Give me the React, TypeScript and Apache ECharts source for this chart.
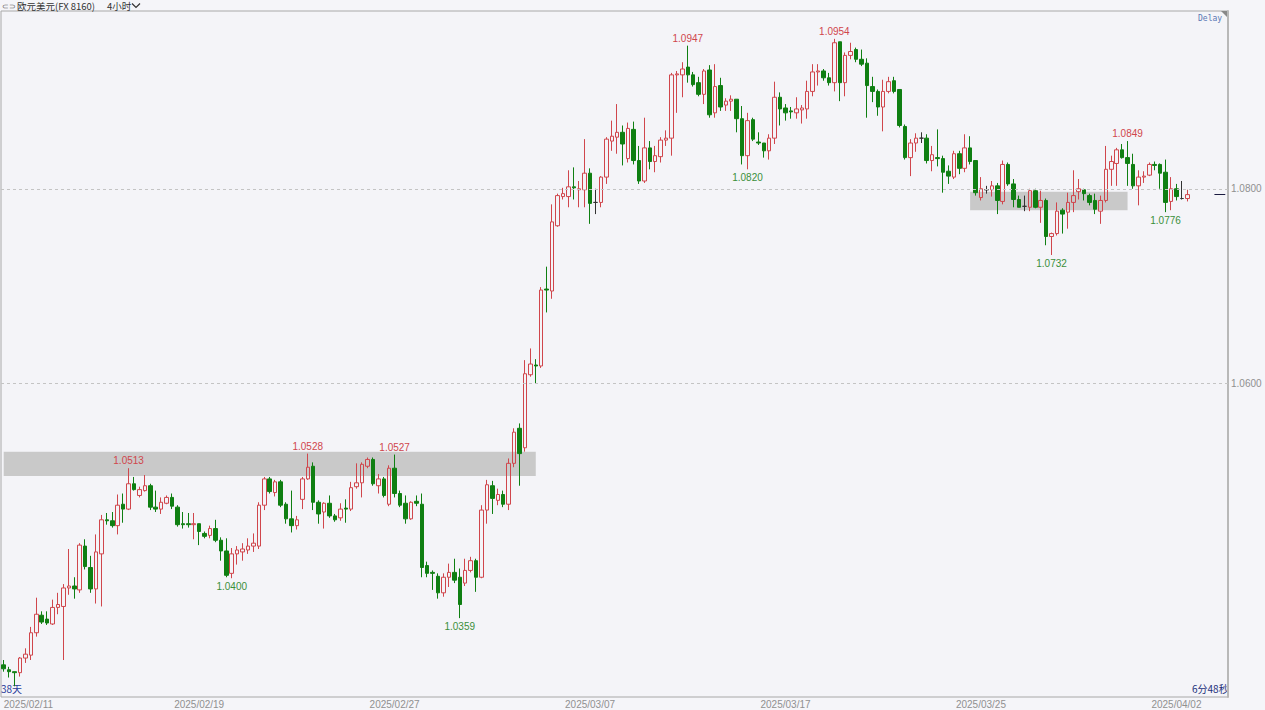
import React, { useEffect, useRef } from 'react';
import * as echarts from 'echarts';

const opens = [
  1.0311,1.0306,1.0304,1.0303,1.0318,1.0321,1.0344,1.0362,1.0358,1.0353,
  1.0370,1.0371,1.0390,1.0392,1.0388,1.0433,1.0411,1.0389,1.0425,1.0460,
  1.0459,1.0454,1.0476,1.0471,1.0497,1.0485,1.0490,1.0495,1.0473,1.0471,
  1.0477,1.0483,1.0473,1.0456,1.0456,1.0455,1.0456,1.0446,1.0444,1.0451,
  1.0439,1.0428,1.0405,1.0425,1.0427,1.0429,1.0433,1.0433,1.0475,1.0502,
  1.0488,1.0499,1.0476,1.0461,1.0454,1.0481,1.0502,1.0515,1.0478,1.0468,
  1.0477,1.0464,1.0462,1.0472,1.0471,1.0494,1.0498,1.0515,1.0522,1.0495,
  1.0502,1.0476,1.0513,1.0487,1.0477,1.0461,1.0479,1.0476,1.0413,1.0406,
  1.0402,1.0385,1.0401,1.0406,1.0401,1.0395,1.0408,1.0418,1.0401,1.0470,
  1.0495,1.0480,1.0486,1.0476,1.0518,1.0554,1.0534,1.0609,1.0619,1.0618,
  1.0697,1.0695,1.0762,1.0792,1.0792,1.0802,1.0799,1.0799,1.0816,1.0786,
  1.0786,1.0812,1.0849,1.0853,1.0858,1.0831,1.0861,1.0829,1.0808,1.0842,
  1.0828,1.0833,1.0850,1.0852,1.0917,1.0917,1.0925,1.0917,1.0909,1.0897,
  1.0922,1.0878,1.0906,1.0886,1.0890,1.0892,1.0872,1.0834,1.0871,1.0848,
  1.0847,1.0839,1.0852,1.0894,1.0883,1.0880,1.0878,1.0881,1.0882,1.0900,
  1.0920,1.0921,1.0914,1.0909,1.0951,1.0909,1.0937,1.0943,1.0933,1.0929,
  1.0905,1.0900,1.0884,1.0900,1.0911,1.0902,1.0864,1.0832,1.0847,1.0852,
  1.0852,1.0829,1.0832,1.0831,1.0818,1.0812,1.0836,1.0821,1.0842,1.0829,
  1.0791,1.0799,1.0799,1.0803,1.0787,1.0825,1.0805,1.0789,1.0782,1.0781,
  1.0798,1.0781,1.0788,1.0751,1.0754,1.0778,1.0776,1.0786,1.0797,1.0799,
  1.0793,1.0788,1.0777,1.0788,1.0820,1.0826,1.0840,1.0832,1.0825,1.0803,
  1.0812,1.0814,1.0825,1.0825,1.0817,1.0787,1.0800,1.0790,1.0790,
];

const closes = [
  1.0307,1.0304,1.0303,1.0318,1.0322,1.0344,1.0363,1.0355,1.0354,1.0370,
  1.0373,1.0390,1.0392,1.0389,1.0434,1.0412,1.0389,1.0427,1.0460,1.0459,
  1.0454,1.0475,1.0471,1.0497,1.0491,1.0491,1.0495,1.0473,1.0471,1.0478,
  1.0483,1.0474,1.0455,1.0455,1.0455,1.0456,1.0448,1.0443,1.0451,1.0439,
  1.0428,1.0403,1.0425,1.0429,1.0430,1.0433,1.0436,1.0475,1.0502,1.0489,
  1.0499,1.0475,1.0461,1.0454,1.0460,1.0502,1.0514,1.0478,1.0466,1.0477,
  1.0464,1.0460,1.0471,1.0471,1.0493,1.0498,1.0517,1.0522,1.0497,1.0502,
  1.0485,1.0513,1.0487,1.0475,1.0461,1.0478,1.0477,1.0411,1.0405,1.0405,
  1.0385,1.0401,1.0406,1.0398,1.0373,1.0408,1.0418,1.0401,1.0470,1.0496,
  1.0482,1.0486,1.0476,1.0518,1.0550,1.0528,1.0610,1.0620,1.0618,1.0696,
  1.0696,1.0766,1.0793,1.0795,1.0802,1.0801,1.0800,1.0816,1.0785,1.0786,
  1.0812,1.0851,1.0854,1.0858,1.0846,1.0862,1.0829,1.0808,1.0842,1.0828,
  1.0834,1.0850,1.0852,1.0917,1.0918,1.0923,1.0917,1.0907,1.0897,1.0921,
  1.0876,1.0905,1.0884,1.0890,1.0892,1.0872,1.0834,1.0870,1.0851,1.0847,
  1.0839,1.0852,1.0894,1.0882,1.0878,1.0879,1.0882,1.0883,1.0900,1.0920,
  1.0921,1.0914,1.0909,1.0950,1.0909,1.0937,1.0941,1.0933,1.0928,1.0906,
  1.0900,1.0884,1.0900,1.0910,1.0900,1.0865,1.0832,1.0847,1.0852,1.0852,
  1.0829,1.0835,1.0831,1.0817,1.0813,1.0836,1.0821,1.0842,1.0828,1.0796,
  1.0800,1.0799,1.0803,1.0788,1.0825,1.0805,1.0789,1.0781,1.0782,1.0798,
  1.0781,1.0788,1.0751,1.0754,1.0777,1.0774,1.0786,1.0793,1.0800,1.0795,
  1.0786,1.0779,1.0788,1.0820,1.0828,1.0840,1.0832,1.0826,1.0803,1.0812,
  1.0813,1.0825,1.0824,1.0816,1.0786,1.0800,1.0792,1.0790,1.0794,
];

const lows = [
  1.0304,1.0298,1.0289,1.0299,1.0313,1.0316,1.0340,1.0353,1.0352,1.0352,
  1.0363,1.0316,1.0383,1.0379,1.0385,1.0409,1.0385,1.0374,1.0371,1.0455,
  1.0452,1.0445,1.0457,1.0470,1.0490,1.0483,1.0489,1.0470,1.0468,1.0466,
  1.0476,1.0471,1.0453,1.0451,1.0452,1.0440,1.0434,1.0441,1.0441,1.0437,
  1.0418,1.0401,1.0400,1.0414,1.0418,1.0425,1.0427,1.0430,1.0470,1.0487,
  1.0484,1.0473,1.0456,1.0447,1.0450,1.0471,1.0501,1.0470,1.0456,1.0451,
  1.0462,1.0458,1.0459,1.0457,1.0469,1.0492,1.0483,1.0513,1.0495,1.0487,
  1.0483,1.0474,1.0483,1.0473,1.0456,1.0460,1.0474,1.0401,1.0401,1.0388,
  1.0379,1.0381,1.0391,1.0395,1.0359,1.0392,1.0406,1.0386,1.0400,1.0456,
  1.0466,1.0475,1.0473,1.0470,1.0514,1.0495,1.0530,1.0607,1.0600,1.0616,
  1.0673,1.0687,1.0761,1.0789,1.0781,1.0789,1.0781,1.0781,1.0764,1.0774,
  1.0781,1.0805,1.0839,1.0836,1.0824,1.0827,1.0825,1.0805,1.0806,1.0820,
  1.0817,1.0827,1.0844,1.0834,1.0878,1.0894,1.0909,1.0905,1.0895,1.0887,
  1.0873,1.0873,1.0880,1.0880,1.0880,1.0858,1.0825,1.0820,1.0849,1.0845,
  1.0832,1.0830,1.0846,1.0865,1.0870,1.0872,1.0872,1.0867,1.0872,1.0895,
  1.0906,1.0911,1.0906,1.0900,1.0890,1.0895,1.0933,1.0930,1.0926,1.0873,
  1.0889,1.0875,1.0859,1.0898,1.0898,1.0863,1.0830,1.0813,1.0838,1.0847,
  1.0826,1.0818,1.0823,1.0796,1.0805,1.0810,1.0815,1.0817,1.0825,1.0793,
  1.0788,1.0795,1.0792,1.0774,1.0784,1.0803,1.0781,1.0781,1.0777,1.0777,
  1.0780,1.0765,1.0742,1.0732,1.0752,1.0754,1.0759,1.0776,1.0789,1.0788,
  1.0783,1.0774,1.0764,1.0786,1.0803,1.0803,1.0831,1.0803,1.0800,1.0783,
  1.0806,1.0813,1.0819,1.0800,1.0776,1.0778,1.0788,1.0789,1.0787,
];

const highs = [
  1.0316,1.0309,1.0304,1.0319,1.0328,1.0350,1.0380,1.0366,1.0366,1.0378,
  1.0385,1.0394,1.0430,1.0401,1.0436,1.0440,1.0423,1.0445,1.0465,1.0467,
  1.0468,1.0486,1.0487,1.0513,1.0504,1.0494,1.0506,1.0497,1.0490,1.0483,
  1.0485,1.0487,1.0475,1.0468,1.0467,1.0467,1.0456,1.0448,1.0454,1.0460,
  1.0442,1.0441,1.0431,1.0433,1.0436,1.0441,1.0446,1.0478,1.0504,1.0504,
  1.0501,1.0501,1.0478,1.0490,1.0464,1.0504,1.0528,1.0519,1.0480,1.0478,
  1.0485,1.0466,1.0477,1.0481,1.0499,1.0518,1.0519,1.0524,1.0524,1.0507,
  1.0504,1.0516,1.0527,1.0490,1.0485,1.0479,1.0485,1.0487,1.0417,1.0408,
  1.0405,1.0405,1.0415,1.0420,1.0410,1.0420,1.0422,1.0420,1.0475,1.0501,
  1.0500,1.0492,1.0490,1.0523,1.0554,1.0559,1.0624,1.0636,1.0625,1.0699,
  1.0720,1.0784,1.0795,1.0801,1.0819,1.0822,1.0808,1.0851,1.0821,1.0800,
  1.0813,1.0853,1.0870,1.0887,1.0865,1.0868,1.0869,1.0844,1.0873,1.0849,
  1.0844,1.0853,1.0860,1.0919,1.0921,1.0930,1.0947,1.0920,1.0915,1.0923,
  1.0927,1.0928,1.0914,1.0893,1.0896,1.0892,1.0885,1.0878,1.0873,1.0858,
  1.0847,1.0856,1.0910,1.0899,1.0887,1.0884,1.0894,1.0886,1.0911,1.0928,
  1.0928,1.0923,1.0919,1.0954,1.0951,1.0940,1.0950,1.0945,1.0943,1.0934,
  1.0915,1.0902,1.0912,1.0915,1.0915,1.0902,1.0866,1.0851,1.0857,1.0858,
  1.0856,1.0844,1.0861,1.0834,1.0824,1.0839,1.0839,1.0856,1.0854,1.0829,
  1.0812,1.0803,1.0808,1.0806,1.0829,1.0827,1.0810,1.0793,1.0793,1.0800,
  1.0800,1.0798,1.0790,1.0755,1.0786,1.0780,1.0796,1.0819,1.0810,1.0800,
  1.0795,1.0795,1.0793,1.0844,1.0834,1.0842,1.0846,1.0849,1.0836,1.0819,
  1.0818,1.0827,1.0828,1.0826,1.0830,1.0812,1.0805,1.0808,1.0799,
];

const tickLabels = ['2025/02/11', '2025/02/19', '2025/02/27', '2025/03/07', '2025/03/17', '2025/03/25', '2025/04/02'];
const highMarks = [23, 56, 72, 126, 153, 207];
const lowMarks = [42, 84, 137, 193, 214];
const gridLevels = [1.06, 1.08];
const yLabelValues = [1.06, 1.08];
const bandFrom = [0, 178];
const bandTo = [98, 207];
const bandLow = [1.0505, 1.0778];
const bandHigh = [1.053, 1.0797];
const EMPTY_SLOTS = 7;
const CANDLES_PER_DAY = 6;
const Y_MIN = 1.0278;
const Y_MAX = 1.09826;

const RED = '#d0464c';
const GREEN = '#0f7f12';

function buildCategories(total: number): string[] {
  const out: string[] = [];
  const d = new Date(2025, 1, 11);
  while (out.length < total) {
    const wd = d.getDay();
    if (wd !== 0 && wd !== 6) {
      const ds = `${d.getFullYear()}/${String(d.getMonth() + 1).padStart(2, '0')}/${String(d.getDate()).padStart(2, '0')}`;
      for (let h = 0; h < CANDLES_PER_DAY && out.length < total; h++) {
        out.push(`${ds} ${String(h * 4).padStart(2, '0')}:00`);
      }
    }
    d.setDate(d.getDate() + 1);
  }
  return out;
}

export default function App() {
  const ref = useRef<HTMLDivElement>(null);

  useEffect(() => {
    if (!ref.current) return;
    const chart = echarts.init(ref.current, undefined, { renderer: 'svg' });
    const categories = buildCategories(opens.length + EMPTY_SLOTS);
    const data = opens.map((o, i) => [o, closes[i], lows[i], highs[i]]);
    const showTick = (_i: number, v: string) =>
      v.endsWith('00:00') && tickLabels.includes(v.slice(0, 10));
    const last = closes.length - 1;
    const textFont = "'Liberation Sans', Arial, sans-serif";

    const markPoints: any[] = [];
    highMarks.forEach((i) =>
      markPoints.push({
        coord: [i, highs[i]],
        value: highs[i],
        label: { position: 'top', distance: 2, color: RED },
      })
    );
    lowMarks.forEach((i) =>
      markPoints.push({
        coord: [i, lows[i]],
        value: lows[i],
        label: { position: 'bottom', distance: 3, color: '#3a8f3a' },
      })
    );

    const option: any = {
      animation: false,
      backgroundColor: '#f5f5f9',
      grid: {
        left: 1,
        right: 37,
        top: 11,
        bottom: 13,
        show: true,
        backgroundColor: '#f4f4f8',
        borderColor: '#a8a8a8',
        borderWidth: 1,
      },
      xAxis: {
        type: 'category',
        data: categories,
        boundaryGap: true,
        axisLine: { show: false },
        axisTick: { show: false },
        axisLabel: {
          interval: showTick,
          formatter: (v: string) => v.slice(0, 10),
          color: '#909090',
          fontSize: 10,
          fontFamily: textFont,
          margin: 2,
          alignMinLabel: 'left',
        },
        splitLine: { show: false },
      },
      yAxis: {
        type: 'value',
        position: 'right',
        min: Y_MIN,
        max: Y_MAX,
        scale: true,
        axisLine: { show: true, lineStyle: { color: '#b8b8b8', width: 2 } },
        axisTick: { show: false },
        splitLine: { show: false },
        axisLabel: {
          customValues: yLabelValues,
          formatter: (v: number) => v.toFixed(4),
          color: '#909090',
          fontSize: 10,
          fontFamily: textFont,
          margin: 3,
        },
      },
      series: [
        {
          type: 'candlestick',
          data,
          barWidth: 4,
          itemStyle: {
            color: 'rgba(0,0,0,0)',
            color0: GREEN,
            borderColor: RED,
            borderColor0: GREEN,
            borderColorDoji: '#333333',
            borderWidth: 1,
          },
          markArea: {
            silent: true,
            itemStyle: { color: '#c9c9c9' },
            data: bandFrom.map((f, k) => [
              { xAxis: f, yAxis: bandLow[k] },
              { xAxis: bandTo[k], yAxis: bandHigh[k] },
            ]),
          },
          markLine: {
            silent: true,
            symbol: 'none',
            label: { show: false },
            lineStyle: { type: [3, 3], color: '#c4c4c4', width: 1 },
            data: [
              ...gridLevels.map((v) => ({ yAxis: v })),
              [
                { coord: [last + 5, closes[last]], lineStyle: { type: 'solid', color: '#1a1a40', width: 1 } },
                { coord: [last + 7, closes[last]] },
              ],
            ],
          },
          markPoint: {
            silent: true,
            symbol: 'circle',
            symbolSize: 1,
            itemStyle: { color: 'rgba(0,0,0,0)' },
            label: {
              show: true,
              fontSize: 10,
              fontFamily: textFont,
              formatter: (p: any) => Number(p.value).toFixed(4),
            },
            data: markPoints,
          },
        },
      ],
      graphic: [
        {
          type: 'text',
          x: 2,
          y: 6,
          style: { text: '⊂⊃', fill: '#555', font: '8px sans-serif', verticalAlign: 'middle' },
        },
        {
          type: 'text',
          x: 17,
          y: 6,
          style: {
            text: '欧元美元(FX 8160)',
            fill: '#333',
            font: "9.5px 'Noto Sans CJK SC', sans-serif",
            verticalAlign: 'middle',
          },
        },
        {
          type: 'text',
          x: 107,
          y: 6,
          style: {
            text: '4小时',
            fill: '#333',
            font: "9.5px 'Noto Sans CJK SC', sans-serif",
            verticalAlign: 'middle',
          },
        },
        {
          type: 'polyline',
          shape: { points: [[132, 3.5], [136, 7.5], [140, 3.5]] },
          style: { stroke: '#333', lineWidth: 1.2, fill: null },
        },
        {
          type: 'text',
          left: 1198,
          top: 14,
          style: { text: 'Delay', fill: '#5a78b4', font: "8px 'DejaVu Sans Mono', monospace" },
        },
        {
          type: 'polygon',
          shape: { points: [[1221, 11], [1228, 11], [1228, 18]] },
          style: { fill: '#888' },
        },
        {
          type: 'text',
          left: 1,
          top: 683,
          style: { text: '38天', fill: '#2b3c9a', font: "10px 'Noto Sans CJK SC', sans-serif" },
        },
        {
          type: 'text',
          left: 1192,
          top: 683,
          style: { text: '6分48秒', fill: '#22307a', font: "10px 'Noto Sans CJK SC', sans-serif" },
        },
      ],
    };

    chart.setOption(option);
    return () => chart.dispose();
  }, []);

  return (
    <div
      ref={ref}
      style={{ position: 'fixed', left: 0, top: 0, width: 1265, height: 710 }}
    />
  );
}
